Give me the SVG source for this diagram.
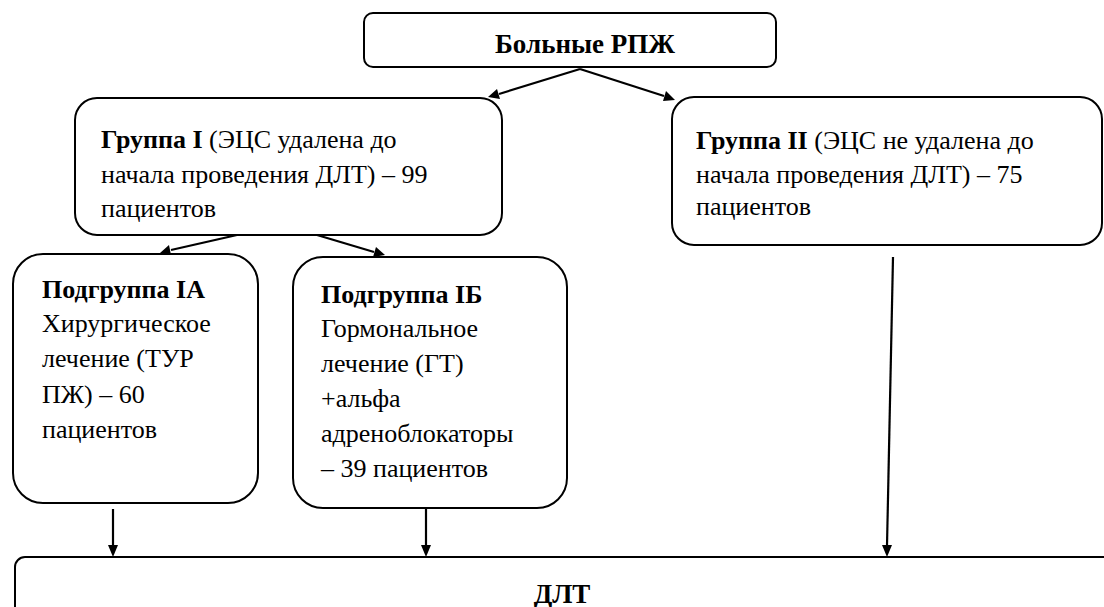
<svg xmlns="http://www.w3.org/2000/svg" width="1104" height="607" viewBox="0 0 1104 607">
<rect width="1104" height="607" fill="#fff"/>
<g id="connectors" stroke="#000" stroke-width="2.2" fill="#000">
<line x1="580" y1="69" x2="499" y2="94"/>
<polygon points="488,97 497,89 500,99" stroke="none"/>
<line x1="580" y1="69" x2="664" y2="96"/>
<polygon points="675,100 663,101 666,91" stroke="none"/>
<line x1="237" y1="235" x2="171" y2="250"/>
<polygon points="160,253 169,245 171,255" stroke="none"/>
<line x1="317" y1="235" x2="374" y2="252"/>
<polygon points="385,255 373,257 376,247" stroke="none"/>
<line x1="113" y1="509" x2="113" y2="546"/>
<polygon points="113,557 108,545 118,545" stroke="none"/>
<line x1="426" y1="507" x2="426" y2="546"/>
<polygon points="426,557 421,545 431,545" stroke="none"/>
<line x1="893" y1="257" x2="887" y2="546"/>
<polygon points="887,557 882,545 892,545" stroke="none"/>
</g>
<g id="node-top">
<rect x="364" y="13" width="412" height="54" rx="9" fill="#fff" stroke="#000" stroke-width="2"/>
<text x="585" y="53" text-anchor="middle" font-family="Liberation Serif" font-size="27" font-weight="bold">Больные РПЖ</text>
</g>
<g id="node-group1">
<rect x="75" y="98" width="427" height="137" rx="22" fill="#fff" stroke="#000" stroke-width="2"/>
<text x="101" y="148" font-family="Liberation Serif" font-size="26"><tspan font-weight="bold">Группа I</tspan> (ЭЦС удалена до</text>
<text x="101" y="183" font-family="Liberation Serif" font-size="26">начала проведения ДЛТ) – 99</text>
<text x="101" y="217" font-family="Liberation Serif" font-size="26">пациентов</text>
</g>
<g id="node-group2">
<rect x="672" y="97" width="430" height="148" rx="22" fill="#fff" stroke="#000" stroke-width="2"/>
<text x="696" y="149" font-family="Liberation Serif" font-size="26"><tspan font-weight="bold">Группа II</tspan> (ЭЦС не удалена до</text>
<text x="696" y="183" font-family="Liberation Serif" font-size="26">начала проведения ДЛТ) – 75</text>
<text x="696" y="215" font-family="Liberation Serif" font-size="26">пациентов</text>
</g>
<g id="node-sub1a">
<rect x="13" y="254" width="245" height="249" rx="30" fill="#fff" stroke="#000" stroke-width="2"/>
<text x="42" y="298" font-family="Liberation Serif" font-size="26" font-weight="bold">Подгруппа IA</text>
<text x="42" y="332" font-family="Liberation Serif" font-size="26">Хирургическое</text>
<text x="42" y="367" font-family="Liberation Serif" font-size="26">лечение (ТУР</text>
<text x="42" y="403" font-family="Liberation Serif" font-size="26">ПЖ) – 60</text>
<text x="42" y="438" font-family="Liberation Serif" font-size="26">пациентов</text>
</g>
<g id="node-sub1b">
<rect x="293" y="257" width="274" height="251" rx="30" fill="#fff" stroke="#000" stroke-width="2"/>
<text x="321" y="303" font-family="Liberation Serif" font-size="26" font-weight="bold">Подгруппа IБ</text>
<text x="321" y="337" font-family="Liberation Serif" font-size="26">Гормональное</text>
<text x="321" y="372" font-family="Liberation Serif" font-size="26">лечение (ГТ)</text>
<text x="321" y="407" font-family="Liberation Serif" font-size="26">+альфа</text>
<text x="321" y="442" font-family="Liberation Serif" font-size="26">адреноблокаторы</text>
<text x="321" y="477" font-family="Liberation Serif" font-size="26">– 39 пациентов</text>
</g>
<g id="node-dlt">
<rect x="15" y="557" width="1110" height="80" rx="10" fill="#fff" stroke="#000" stroke-width="2"/>
<text x="562" y="603" text-anchor="middle" font-family="Liberation Serif" font-size="27" font-weight="bold">ДЛТ</text>
</g>
</svg>
